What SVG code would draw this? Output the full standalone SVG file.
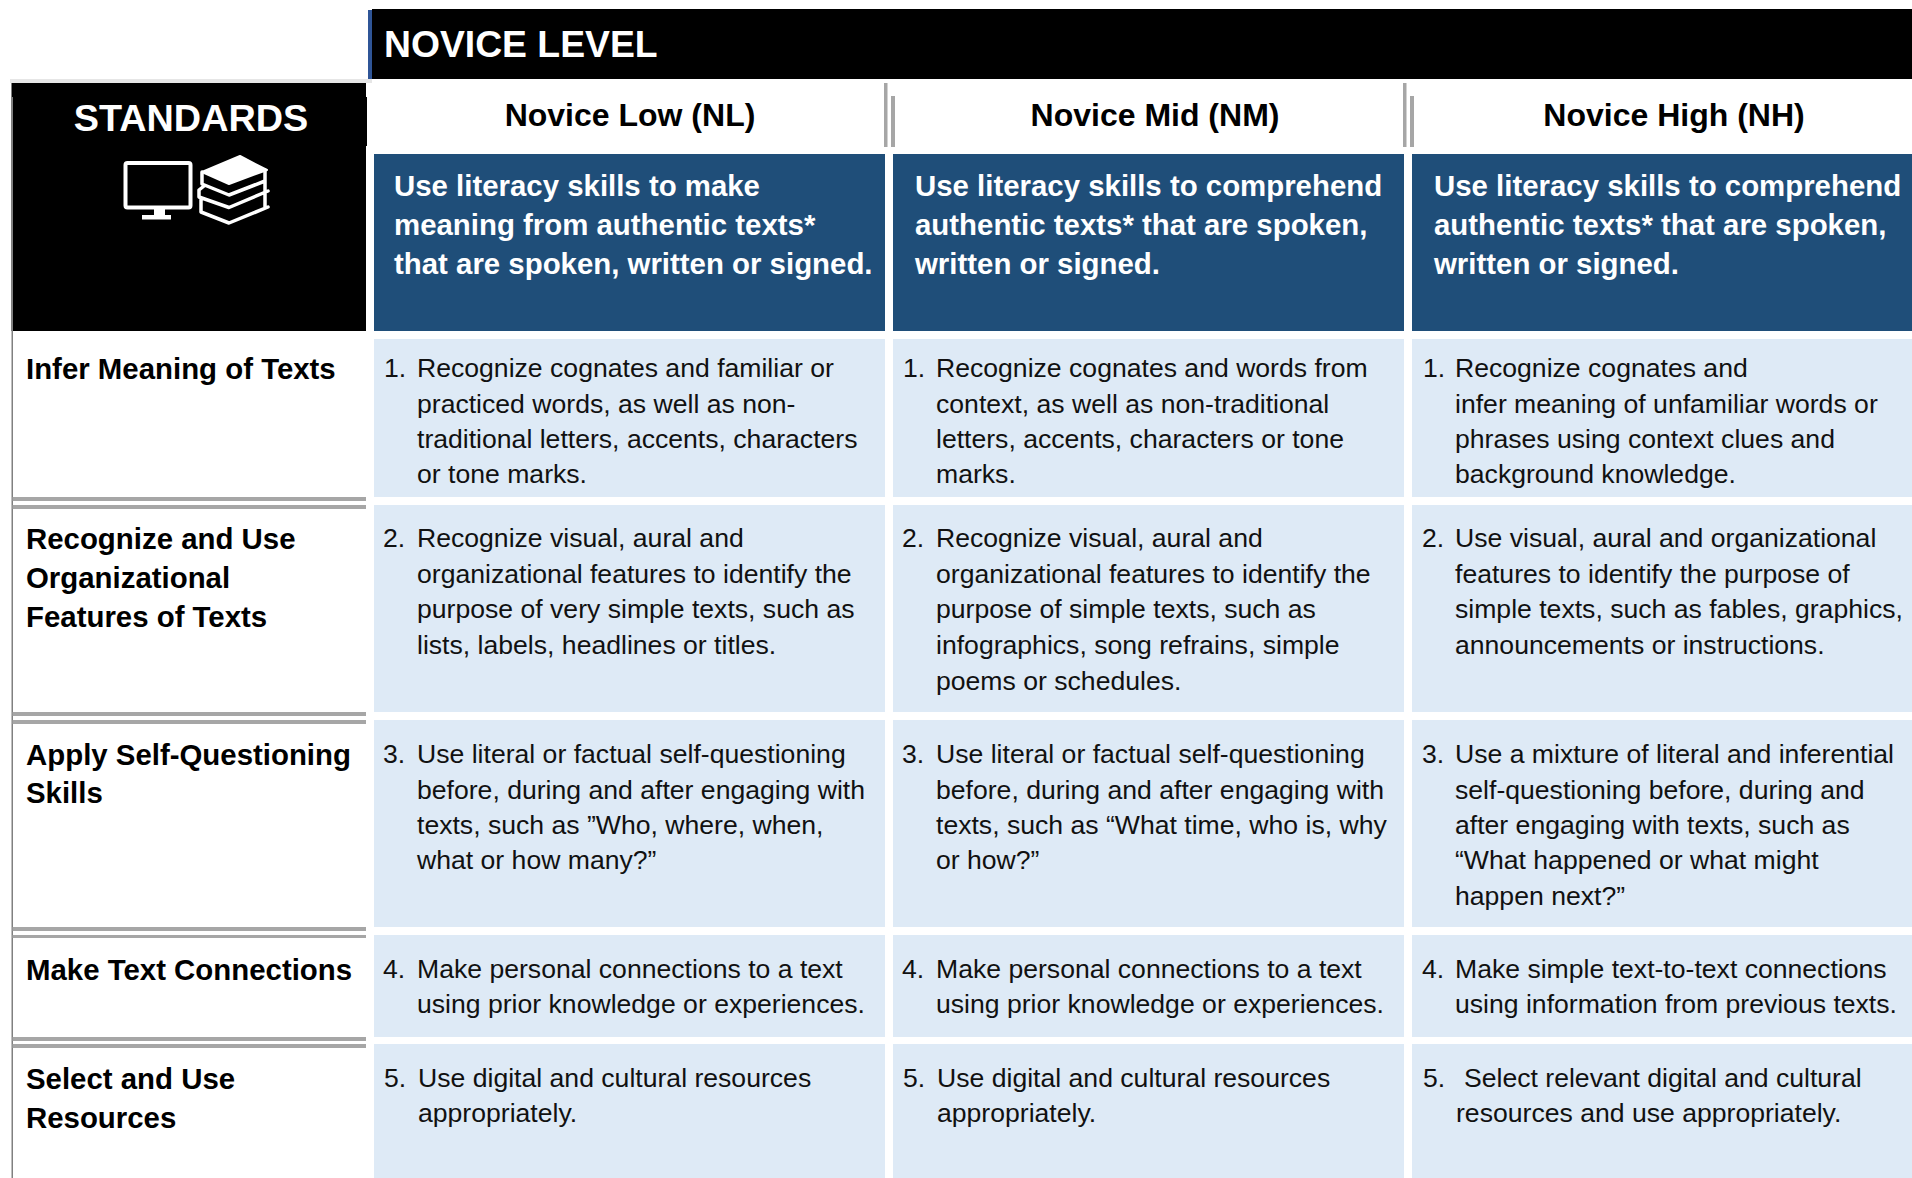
<svg xmlns="http://www.w3.org/2000/svg" width="1912" height="1178" viewBox="0 0 1912 1178">
<style>
text{font-family:"Liberation Sans",Arial,sans-serif}
.hd{fill:#000}
.blue{fill:#1f4e79}
.light{fill:#deeaf6}
.rule{fill:#a6a6a6}
.edge{fill:#808080}
.t{font-size:26.6px;fill:#111}
.b{font-size:29.4px;font-weight:700;fill:#000}
.w{font-size:29.4px;font-weight:700;fill:#fff}
.c{font-size:32px;font-weight:700;fill:#000;text-anchor:middle}
.ic{fill:none;stroke:#fff;stroke-width:3.5;stroke-linejoin:round;stroke-linecap:round}
</style>
<rect width="1912" height="1178" fill="#fff"/>
<g id="level-header">
<rect x="368" y="10" width="4" height="69" fill="#2f5597"/>
<rect class="hd" x="372" y="9" width="1540" height="70"/>
<text x="384" y="57" font-size="37.300" font-weight="700" fill="#fff">NOVICE LEVEL</text>
</g>
<g id="standards-header">
<rect x="10" y="79" width="362" height="4" fill="#e6e6e6"/>
<rect class="hd" x="11.500" y="83" width="354.500" height="248"/>
<rect class="hd" x="366" y="97" width="1" height="49"/>
<text x="191" y="131" font-size="37.800" font-weight="700" fill="#fff" text-anchor="middle">STANDARDS</text>
<g id="icon-monitor">
<rect x="125.500" y="163" width="65" height="44.500" rx="2" fill="none" stroke="#fff" stroke-width="4"/>
<rect x="154" y="209" width="11" height="7" fill="#fff"/>
<rect x="142" y="215" width="29" height="4.500" fill="#fff"/>
</g>
<g id="icon-books">
<polygon points="202,172 240,156 267,170 229,184" fill="#fff" stroke="#fff" stroke-width="2" stroke-linejoin="round"/>
<path class="ic" d="M202,172V184L229,195L265,181V170M204,186L199,190V197L229,207.500L268,191M265,181V196M201,199V212L229,223L268,207M265,196V207"/>
</g>
</g>
<g id="level-columns">
<text class="c" x="630" y="126">Novice Low (NL)</text>
<text class="c" x="1155" y="126">Novice Mid (NM)</text>
<text class="c" x="1674" y="126">Novice High (NH)</text>
<rect class="rule" x="884" y="83" width="3.500" height="64"/>
<rect class="rule" x="891" y="96" width="4" height="51"/>
<rect class="rule" x="1403" y="83" width="3.500" height="64"/>
<rect class="rule" x="1410" y="96" width="4" height="51"/>
</g>
<g id="level-nl">
<rect class="blue" x="374" y="154" width="511" height="177"/>
<text class="w" x="394" y="195.500">Use literacy skills to make</text>
<text class="w" x="394" y="234.500">meaning from authentic texts*</text>
<text class="w" x="394" y="273.500">that are spoken, written or signed.</text>
</g>
<g id="level-nm">
<rect class="blue" x="893" y="154" width="511" height="177"/>
<text class="w" x="915" y="195.500">Use literacy skills to comprehend</text>
<text class="w" x="915" y="234.500">authentic texts* that are spoken,</text>
<text class="w" x="915" y="273.500">written or signed.</text>
</g>
<g id="level-nh">
<rect class="blue" x="1412" y="154" width="500" height="177"/>
<text class="w" x="1434" y="195.500">Use literacy skills to comprehend</text>
<text class="w" x="1434" y="234.500">authentic texts* that are spoken,</text>
<text class="w" x="1434" y="273.500">written or signed.</text>
</g>
<g id="row-rules">
<rect class="edge" x="11.500" y="97" width="1.500" height="1081"/>
<rect class="rule" x="12.500" y="497" width="353.500" height="4"/>
<rect class="rule" x="12.500" y="505" width="353.500" height="4"/>
<rect class="rule" x="12.500" y="712" width="353.500" height="4"/>
<rect class="rule" x="12.500" y="720" width="353.500" height="4"/>
<rect class="rule" x="12.500" y="927" width="353.500" height="4"/>
<rect class="rule" x="12.500" y="935" width="353.500" height="3"/>
<rect class="rule" x="12.500" y="1037" width="353.500" height="4"/>
<rect class="rule" x="12.500" y="1044" width="353.500" height="4"/>
</g>
<g id="row-1">
<text class="b" x="26" y="379">Infer Meaning of Texts</text>
<rect class="light" x="374" y="339" width="511" height="158"/>
<rect class="light" x="893" y="339" width="511" height="158"/>
<rect class="light" x="1412" y="339" width="500" height="158"/>
<text class="t" x="384" y="377">1.</text><text class="t" x="417" y="377">Recognize cognates and familiar or</text>
<text class="t" x="417" y="412.500">practiced words, as well as non-</text>
<text class="t" x="417" y="448">traditional letters, accents, characters</text>
<text class="t" x="417" y="483">or tone marks.</text>
<text class="t" x="903" y="377">1.</text><text class="t" x="936" y="377">Recognize cognates and words from</text>
<text class="t" x="936" y="412.500">context, as well as non-traditional</text>
<text class="t" x="936" y="448">letters, accents, characters or tone</text>
<text class="t" x="936" y="483">marks.</text>
<text class="t" x="1423" y="377">1.</text><text class="t" x="1455" y="377">Recognize cognates and</text>
<text class="t" x="1455" y="412.500">infer meaning of unfamiliar words or</text>
<text class="t" x="1455" y="448">phrases using context clues and</text>
<text class="t" x="1455" y="483">background knowledge.</text>
</g>
<g id="row-2">
<text class="b" x="26" y="549">Recognize and Use</text>
<text class="b" x="26" y="588">Organizational</text>
<text class="b" x="26" y="627">Features of Texts</text>
<rect class="light" x="374" y="505" width="511" height="207"/>
<rect class="light" x="893" y="505" width="511" height="207"/>
<rect class="light" x="1412" y="505" width="500" height="207"/>
<text class="t" x="383" y="547">2.</text><text class="t" x="417" y="547">Recognize visual, aural and</text>
<text class="t" x="417" y="583">organizational features to identify the</text>
<text class="t" x="417" y="618">purpose of very simple texts, such as</text>
<text class="t" x="417" y="654">lists, labels, headlines or titles.</text>
<text class="t" x="902" y="547">2.</text><text class="t" x="936" y="547">Recognize visual, aural and</text>
<text class="t" x="936" y="583">organizational features to identify the</text>
<text class="t" x="936" y="618">purpose of simple texts, such as</text>
<text class="t" x="936" y="654">infographics, song refrains, simple</text>
<text class="t" x="936" y="690">poems or schedules.</text>
<text class="t" x="1422" y="547">2.</text><text class="t" x="1455" y="547">Use visual, aural and organizational</text>
<text class="t" x="1455" y="583">features to identify the purpose of</text>
<text class="t" x="1455" y="618">simple texts, such as fables, graphics,</text>
<text class="t" x="1455" y="654">announcements or instructions.</text>
</g>
<g id="row-3">
<text class="b" x="26" y="765">Apply Self-Questioning</text>
<text class="b" x="26" y="803">Skills</text>
<rect class="light" x="374" y="720" width="511" height="207"/>
<rect class="light" x="893" y="720" width="511" height="207"/>
<rect class="light" x="1412" y="720" width="500" height="207"/>
<text class="t" x="383" y="763">3.</text><text class="t" x="417" y="763">Use literal or factual self-questioning</text>
<text class="t" x="417" y="799">before, during and after engaging with</text>
<text class="t" x="417" y="834">texts, such as ”Who, where, when,</text>
<text class="t" x="417" y="868.500">what or how many?”</text>
<text class="t" x="902" y="763">3.</text><text class="t" x="936" y="763">Use literal or factual self-questioning</text>
<text class="t" x="936" y="799">before, during and after engaging with</text>
<text class="t" x="936" y="834">texts, such as “What time, who is, why</text>
<text class="t" x="936" y="868.500">or how?”</text>
<text class="t" x="1422" y="763">3.</text><text class="t" x="1455" y="763">Use a mixture of literal and inferential</text>
<text class="t" x="1455" y="799">self-questioning before, during and</text>
<text class="t" x="1455" y="834">after engaging with texts, such as</text>
<text class="t" x="1455" y="868.500">“What happened or what might</text>
<text class="t" x="1455" y="905">happen next?”</text>
</g>
<g id="row-4">
<text class="b" x="26" y="980">Make Text Connections</text>
<rect class="light" x="374" y="935" width="511" height="102"/>
<rect class="light" x="893" y="935" width="511" height="102"/>
<rect class="light" x="1412" y="935" width="500" height="102"/>
<text class="t" x="383" y="978">4.</text><text class="t" x="417" y="978">Make personal connections to a text</text>
<text class="t" x="417" y="1013">using prior knowledge or experiences.</text>
<text class="t" x="902" y="978">4.</text><text class="t" x="936" y="978">Make personal connections to a text</text>
<text class="t" x="936" y="1013">using prior knowledge or experiences.</text>
<text class="t" x="1422" y="978">4.</text><text class="t" x="1455" y="978">Make simple text-to-text connections</text>
<text class="t" x="1455" y="1013">using information from previous texts.</text>
</g>
<g id="row-5">
<text class="b" x="26" y="1089">Select and Use</text>
<text class="b" x="26" y="1128">Resources</text>
<rect class="light" x="374" y="1044" width="511" height="134"/>
<rect class="light" x="893" y="1044" width="511" height="134"/>
<rect class="light" x="1412" y="1044" width="500" height="134"/>
<text class="t" x="384" y="1087">5.</text><text class="t" x="418" y="1087">Use digital and cultural resources</text>
<text class="t" x="418" y="1122">appropriately.</text>
<text class="t" x="903" y="1087">5.</text><text class="t" x="937" y="1087">Use digital and cultural resources</text>
<text class="t" x="937" y="1122">appropriately.</text>
<text class="t" x="1423" y="1087">5.</text><text class="t" x="1464" y="1087">Select relevant digital and cultural</text>
<text class="t" x="1456" y="1122">resources and use appropriately.</text>
</g>
</svg>
